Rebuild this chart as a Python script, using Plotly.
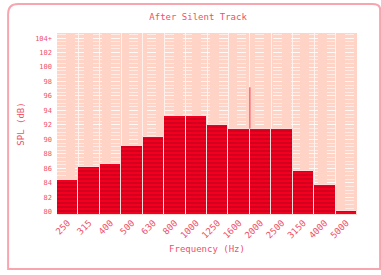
import plotly.graph_objects as go

freq_labels = ["250", "315", "400", "500", "630", "800", "1000", "1250",
               "1600", "2000", "2500", "3150", "4000", "5000"]
spl_values = [84.4, 86.2, 86.6, 89.1, 90.3, 93.2, 93.2, 92.0,
              91.4, 91.5, 91.5, 85.7, 83.7, 80.1]
y_tick_vals = [80, 82, 84, 86, 88, 90, 92, 94, 96, 98, 100, 102, 104]
y_tick_text = ["80", "82", "84", "86", "88", "90", "92", "94", "96", "98", "100", "102", "104+"]
marker_x = [8.5, 8.5]
marker_y = [91.5, 97.2]
y_floor = 79.55

idx = list(range(len(freq_labels)))
font_fam = "DejaVu Sans Mono, monospace"
txt_col = "#ef5068"

fig = go.Figure()
fig.add_trace(go.Bar(
    x=idx, y=[v - y_floor for v in spl_values], base=y_floor,
    width=1.0,
    marker=dict(color="#f2001e",
                line=dict(color="rgba(255,235,230,0.9)", width=1),
                pattern=dict(shape="-", size=4, solidity=0.4,
                             fgcolor="#a0001c", fillmode="overlay")),
    showlegend=False,
))
fig.add_trace(go.Scatter(x=marker_x, y=marker_y, mode="lines",
                         line=dict(color="#f03050", width=1), showlegend=False))

fig.update_layout(
    width=381, height=275,
    margin=dict(l=57, r=24, t=33, b=60),
    paper_bgcolor="white",
    plot_bgcolor="#ffd3c6",
    bargap=0,
    title=dict(text="After Silent Track", x=0.52, xanchor="center", y=0.938, yanchor="middle",
               font=dict(family=font_fam, size=9, color=txt_col)),
    font=dict(family=font_fam, size=8, color=txt_col),
)
fig.update_xaxes(
    range=[-0.5, 13.5],
    tickmode="array", tickvals=idx, ticktext=freq_labels,
    tickangle=-45, showgrid=False, zeroline=False,
    tickfont=dict(family=font_fam, size=9, color=txt_col),
    title=dict(text="Frequency (Hz)", font=dict(family=font_fam, size=9, color=txt_col), standoff=6),
    minor=dict(tickmode="linear", tick0=0.5, dtick=1, showgrid=True,
               gridcolor="rgba(255,245,240,0.9)", gridwidth=1),
)
fig.update_yaxes(
    range=[y_floor, 104.7],
    tickmode="array", tickvals=y_tick_vals, ticktext=y_tick_text,
    showgrid=True, gridcolor="rgba(255,250,245,0.95)", gridwidth=1, griddash="dash",
    zeroline=False, ticklabelstandoff=4,
    tickfont=dict(family=font_fam, size=7, color=txt_col),
    title=dict(text="SPL (dB)", font=dict(family=font_fam, size=9, color=txt_col), standoff=8),
    minor=dict(tickmode="linear", tick0=80, dtick=0.5, showgrid=True,
               gridcolor="rgba(255,240,235,0.8)", gridwidth=1, griddash="dash"),
)
# decorative rounded frame around the chart (paper coordinates)
fig.add_shape(type="path", xref="paper", yref="paper", layer="below",
              path="M -0.163 -0.297 L -0.163 1.104 Q -0.163 1.159 -0.13 1.159 "
                   "L 1.05 1.159 Q 1.077 1.159 1.077 1.13 L 1.077 -0.297 Z",
              line=dict(color="#f7a6b0", width=2))
fig.write_html("out.html", config={"displayModeBar": False},
               post_script="document.body.style.margin='0';")
